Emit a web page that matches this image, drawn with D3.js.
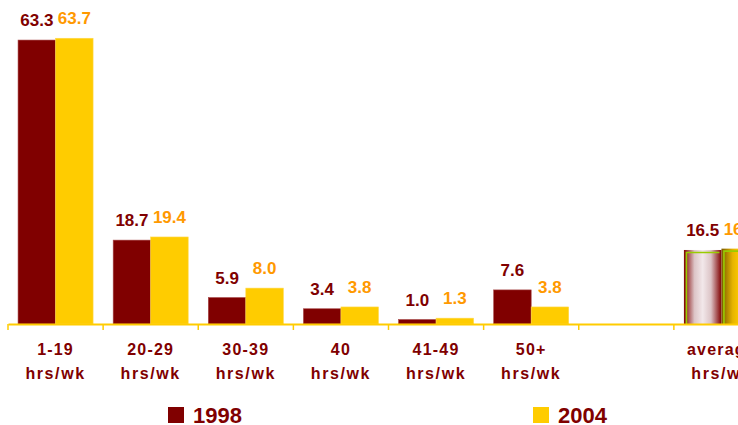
<!DOCTYPE html>
<html>
<head>
<meta charset="utf-8">
<script src="https://cdn.jsdelivr.net/npm/d3@7"></script>
<style>
  html, body { margin: 0; padding: 0; background: #fff; overflow: hidden; }
  svg { display: block; font-family: "Liberation Sans", Arial, sans-serif; }
</style>
</head>
<body>
<div id="chart"></div>
<script>
const categories = ["1-19", "20-29", "30-39", "40", "41-49", "50+", "", "average"];
const subLabels = ["hrs/wk", "hrs/wk", "hrs/wk", "hrs/wk", "hrs/wk", "hrs/wk", "", "hrs/wk"];
const years = ["1998", "2004"];
const values1998 = [63.3, 18.7, 5.9, 3.4, 1.0, 7.6, null, 16.5];
const values2004 = [63.7, 19.4, 8.0, 3.8, 1.3, 3.8, null, 16.8];

const width = 738;
const height = 425;
const margin = { top: 10, right: -31, bottom: 101, left: 8 };
const innerWidth = width - margin.left - margin.right;
const innerHeight = height - margin.top - margin.bottom;

const barColors = { "1998": "#800000", "2004": "#ffcc00" };
const labelColors = { "1998": "#800000", "2004": "#ff9900" };

const svg = d3.select("#chart")
  .append("svg")
  .attr("width", width)
  .attr("height", height);

const defs = svg.append("defs");

const grad98 = defs.append("linearGradient").attr("id", "avg1998");
[[0, "#800000"], [0.28, "#dcc4c6"], [0.5, "#f2e8ea"], [0.72, "#dcc4c6"], [1, "#800000"]]
  .forEach(([o, c]) => grad98.append("stop").attr("offset", o).attr("stop-color", c));

const grad04 = defs.append("linearGradient").attr("id", "avg2004");
[[0, "#7a5a00"], [0.3, "#e6b400"], [0.5, "#ffcc00"], [0.7, "#e6b400"], [1, "#7a5a00"]]
  .forEach(([o, c]) => grad04.append("stop").attr("offset", o).attr("stop-color", c));

const chart = svg.append("g")
  .attr("transform", `translate(${margin.left}, ${margin.top})`);

const x = d3.scaleBand()
  .domain(categories)
  .range([0, innerWidth])
  .padding(0);

const x1 = d3.scaleBand()
  .domain(years)
  .range([0, x.bandwidth()])
  .paddingInner(0)
  .paddingOuter(0.268);

const y = d3.scaleLinear()
  .domain([0, 70])
  .range([innerHeight, 0]);

const rows = categories.map((c, i) => ({
  cat: c,
  sub: subLabels[i],
  vals: [
    { year: "1998", value: values1998[i] },
    { year: "2004", value: values2004[i] },
  ].filter((d) => d.value != null),
}));

const groups = chart.selectAll("g.group")
  .data(rows)
  .join("g")
  .attr("class", "group")
  .attr("transform", (d) => `translate(${x(d.cat)}, 0)`);

groups.each(function (row) {
  const g = d3.select(this);
  const isAvg = row.cat === "average";

  g.selectAll("rect.bar")
    .data(row.vals)
    .join("rect")
    .attr("class", "bar")
    .attr("x", (d) => x1(d.year))
    .attr("y", (d) => y(d.value))
    .attr("width", x1.bandwidth())
    .attr("height", (d) => y(0) - y(d.value))
    .attr("fill", (d) => isAvg ? `url(#avg${d.year})` : barColors[d.year])
    .attr("stroke", (d) => isAvg ? "none" : (d.year === "1998" ? "#a84848" : "#ffd84a"))
    .attr("stroke-width", 0.6);

  if (isAvg) {
    // green rim on the left and top of the shaded average bars
    g.selectAll("path.rim")
      .data(row.vals)
      .join("path")
      .attr("class", "rim")
      .attr("fill", "none")
      .attr("stroke", "#99cc00")
      .attr("stroke-width", 1.6)
      .attr("d", (d) => {
        const x0 = x1(d.year) + 2.5;
        const x2 = x1(d.year) + x1.bandwidth() - 2;
        const top = y(d.value) + 2.5;
        return `M${x0},${y(0)}V${top}H${x2}`;
      });
  }

  g.selectAll("text.val")
    .data(row.vals)
    .join("text")
    .attr("class", "val")
    .attr("x", (d) => x1(d.year) + x1.bandwidth() / 2)
    .attr("y", (d) => y(d.value) - 14)
    .attr("text-anchor", "middle")
    .attr("font-size", 17)
    .attr("font-weight", "bold")
    .attr("fill", (d) => labelColors[d.year])
    .text((d) => d.value.toFixed(1));
});

// axis
const axis = chart.append("g")
  .attr("transform", `translate(0, ${innerHeight})`)
  .call(d3.axisBottom(x).tickSize(0).tickSizeOuter(0).tickFormat(""));

axis.select(".domain").attr("stroke", "#ffcc00").attr("stroke-width", 2);

chart.append("g")
  .selectAll("line")
  .data(categories)
  .join("line")
  .attr("x1", (d) => x(d))
  .attr("x2", (d) => x(d))
  .attr("y1", innerHeight)
  .attr("y2", innerHeight + 6)
  .attr("stroke", "#ffcc00")
  .attr("stroke-width", 1.5);

const labelRows = rows.filter((d) => d.cat !== "");

chart.append("g")
  .selectAll("text")
  .data(labelRows)
  .join("text")
  .attr("x", (d) => x(d.cat) + x.bandwidth() / 2)
  .attr("y", innerHeight + 31)
  .attr("text-anchor", "middle")
  .attr("font-size", 16)
  .attr("font-weight", "bold")
  .attr("letter-spacing", 1.2)
  .attr("fill", "#800000")
  .text((d) => d.cat);

chart.append("g")
  .selectAll("text")
  .data(labelRows)
  .join("text")
  .attr("x", (d) => x(d.cat) + x.bandwidth() / 2)
  .attr("y", innerHeight + 55)
  .attr("text-anchor", "middle")
  .attr("font-size", 16)
  .attr("font-weight", "bold")
  .attr("letter-spacing", 1.6)
  .attr("fill", "#800000")
  .text((d) => d.sub);

// legend
const legendX = [168, 533];
const legend = svg.append("g")
  .selectAll("g")
  .data(years)
  .join("g")
  .attr("transform", (d, i) => `translate(${legendX[i]}, 407)`);

legend.append("rect")
  .attr("width", 16)
  .attr("height", 16)
  .attr("fill", (d) => barColors[d]);

legend.append("text")
  .attr("x", 25)
  .attr("y", 15.5)
  .attr("font-size", 22)
  .attr("font-weight", "bold")
  .attr("fill", "#800000")
  .text((d) => d);
</script>
</body>
</html>
